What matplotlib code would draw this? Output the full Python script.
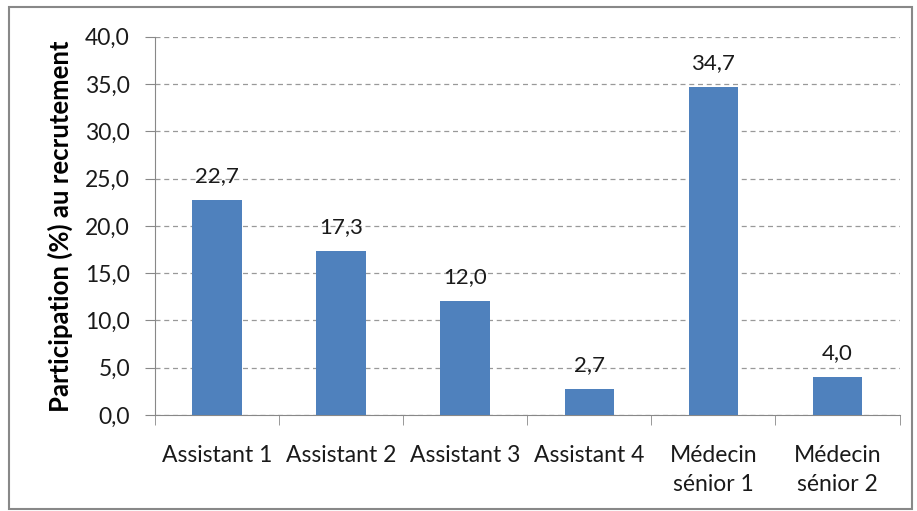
import matplotlib
matplotlib.use("Agg")
import matplotlib.pyplot as plt
from matplotlib.patches import Rectangle
import numpy as np

categories = ["Assistant 1", "Assistant 2", "Assistant 3", "Assistant 4",
              "Médecin\nsénior 1", "Médecin\nsénior 2"]
values = [22.7, 17.3, 12.0, 2.7, 34.7, 4.0]
yticks = [0, 5, 10, 15, 20, 25, 30, 35, 40]

plt.rcParams["font.family"] = ["Lato", "DejaVu Sans"]

fig = plt.figure(figsize=(9.17, 5.11), dpi=100)
ax = fig.add_axes([0.169, 0.188, 0.812, 0.740])

x = np.arange(len(categories))
bars = ax.bar(x, values, width=0.4, color="#4F81BD", zorder=3)
for xi, v in zip(x, values):
    ax.text(xi, v + 1.5, f"{v:.1f}".replace(".", ","), ha="center",
            va="bottom", fontsize=16, color="#1a1a1a")

ax.set_xlim(-0.5, len(categories) - 0.5)
ax.set_ylim(0, 40)
ax.set_yticks(yticks)
ax.set_yticklabels([f"{t:.1f}".replace(".", ",") for t in yticks],
                   fontsize=16.5, color="#1a1a1a")
ax.set_xticks(x)
ax.set_xticklabels(categories, fontsize=16.5, color="#1a1a1a",
                   linespacing=1.45)
ax.set_xticks(np.arange(len(categories) + 1) - 0.5, minor=True)
ax.tick_params(axis="x", which="major", length=0, pad=22)
ax.tick_params(axis="x", which="minor", length=7, color="#888888")
ax.tick_params(axis="y", length=7, color="#888888", pad=11)
ax.grid(axis="y", linestyle=(0, (4, 3)), color="#999999", linewidth=0.9,
        zorder=0)
for s in ["top", "right"]:
    ax.spines[s].set_visible(False)
for s in ["left", "bottom"]:
    ax.spines[s].set_color("#888888")
ax.set_ylabel("Participation (%) au recrutement", fontsize=18.5,
              fontweight="bold")
ax.yaxis.set_label_coords(-0.11, 0.5)

fig.patches.append(Rectangle((0.010, 0.004), 0.985, 0.982,
                             transform=fig.transFigure, fill=False,
                             edgecolor="#888888", linewidth=1.5))

fig.savefig("out.png", dpi=100)
